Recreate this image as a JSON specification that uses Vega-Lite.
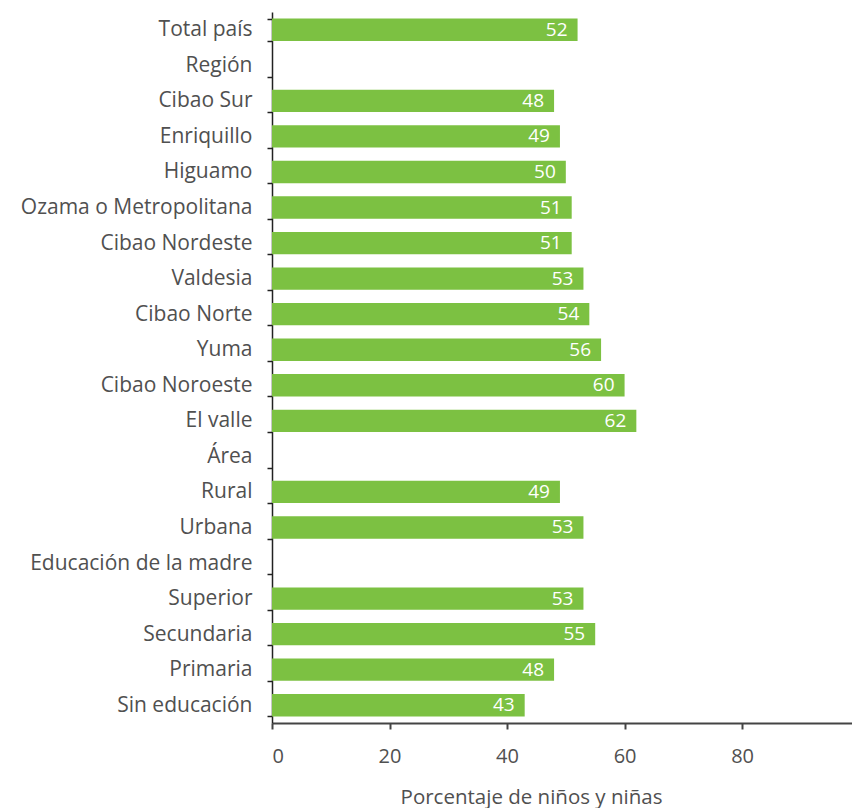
{
  "$schema": "https://vega.github.io/schema/vega-lite/v6.json",
  "width": 580,
  "height": 711,
  "autosize": {"type": "none"},
  "padding": {"left": 272, "top": 12, "right": 0, "bottom": 85},
  "background": "white",
  "config": {"view": {"stroke": null}, "font": "Open Sans"},
  "data": {
    "values": [
      {"cat": "Total país", "v": 52},
      {"cat": "Región", "v": null},
      {"cat": "Cibao Sur", "v": 48},
      {"cat": "Enriquillo", "v": 49},
      {"cat": "Higuamo", "v": 50},
      {"cat": "Ozama o Metropolitana", "v": 51},
      {"cat": "Cibao Nordeste", "v": 51},
      {"cat": "Valdesia", "v": 53},
      {"cat": "Cibao Norte", "v": 54},
      {"cat": "Yuma", "v": 56},
      {"cat": "Cibao Noroeste", "v": 60},
      {"cat": "El valle", "v": 62},
      {"cat": "Área", "v": null},
      {"cat": "Rural", "v": 49},
      {"cat": "Urbana", "v": 53},
      {"cat": "Educación de la madre", "v": null},
      {"cat": "Superior", "v": 53},
      {"cat": "Secundaria", "v": 55},
      {"cat": "Primaria", "v": 48},
      {"cat": "Sin educación", "v": 43}
    ]
  },
  "encoding": {
    "y": {
      "field": "cat",
      "type": "nominal",
      "sort": null,
      "scale": {
        "domain": ["Total país", "Región", "Cibao Sur", "Enriquillo", "Higuamo", "Ozama o Metropolitana", "Cibao Nordeste", "Valdesia", "Cibao Norte", "Yuma", "Cibao Noroeste", "El valle", "Área", "Rural", "Urbana", "Educación de la madre", "Superior", "Secundaria", "Primaria", "Sin educación"],
        "paddingInner": 0.37,
        "paddingOuter": 0.185
      },
      "axis": {
        "title": null,
        "tickBand": "extent",
        "domainColor": "#222",
        "domainWidth": 1.5,
        "tickColor": "#222",
        "tickSize": 5,
        "tickWidth": 1.5,
        "labelPadding": 15,
        "labelFontSize": 21,
        "labelColor": "#505050",
        "labelFont": "Open Sans",
        "labelLimit": 400
      }
    },
    "x": {
      "field": "v",
      "type": "quantitative",
      "scale": {"domain": [0, 98.7], "nice": false},
      "axis": {
        "values": [0, 20, 40, 60, 80],
        "grid": false,
        "title": "Porcentaje de niños y niñas",
        "titleFont": "Open Sans",
        "titleFontWeight": "normal",
        "titleFontSize": 20.5,
        "titleColor": "#505050",
        "titleX": 259,
        "titleY": 74,
        "titleBaseline": "middle",
        "domainColor": "#444",
        "domainWidth": 2,
        "tickColor": "#444",
        "tickSize": 6,
        "tickWidth": 2,
        "labelPadding": 17,
        "labelFontSize": 20,
        "labelColor": "#505050",
        "labelFont": "Open Sans"
      }
    }
  },
  "layer": [
    {"mark": {"type": "bar", "color": "#7cc142"}},
    {
      "mark": {"type": "text", "align": "right", "baseline": "middle", "dx": -10, "color": "white", "fontSize": 19, "font": "Open Sans"},
      "encoding": {"text": {"field": "v", "type": "quantitative"}}
    }
  ]
}
